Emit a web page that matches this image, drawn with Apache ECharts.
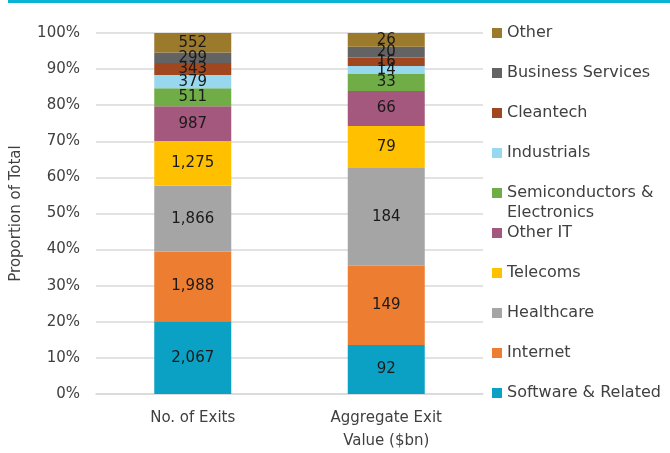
<!DOCTYPE html>
<html>
<head>
<meta charset="utf-8">
<script src="https://cdn.jsdelivr.net/npm/echarts@6/dist/echarts.min.js"></script>
<style>
  html, body { margin: 0; padding: 0; background: #fff; }
  #chart { width: 670px; height: 453px; }
</style>
</head>
<body>
<div id="chart"></div>
<script>
// bottom to top of each stack
const sectors = [
  "Software & Related", "Internet", "Healthcare", "Telecoms", "Other IT",
  "Semiconductors & Electronics", "Industrials", "Cleantech", "Business Services", "Other"
];
const columns = ["No. of Exits", "Aggregate Exit\nValue ($bn)"];
const exitCounts = [2067, 1988, 1866, 1275, 987, 511, 379, 343, 299, 552];
const exitValues = [92, 149, 184, 79, 66, 33, 14, 16, 20, 26];
const yTicks = [0, 10, 20, 30, 40, 50, 60, 70, 80, 90, 100];

const colors = [
  "#0ba1c4", "#ed7d31", "#a5a5a5", "#ffc000", "#a5587d",
  "#70ad47", "#97d8ef", "#a0471f", "#636363", "#9c7a2b"
];

const FONT = "DejaVu Sans";
const TEXT = "#404040";

const chart = echarts.init(document.getElementById("chart"));

const raw = [exitCounts, exitValues];
const totals = raw.map((arr) => arr.reduce((a, b) => a + b, 0));

const series = sectors.map((name, i) => ({
  name: name,
  type: "bar",
  stack: "total",
  barWidth: 77,
  itemStyle: { color: colors[i] },
  data: raw.map((arr, c) => arr[i] / totals[c] * 100),
  label: {
    show: true,
    position: "inside",
    fontFamily: FONT,
    fontSize: 15,
    color: "#1a1a1a",
    formatter: (p) => raw[p.dataIndex][i].toLocaleString("en-US"),
  },
}));

const legendText = { fontFamily: FONT, fontSize: 16, color: TEXT, lineHeight: 20 };
const legendNames = sectors.slice().reverse();

// the long legend entry wraps; second line sits under the first like Excel does
const wrapName = "Semiconductors & Electronics";
const wrapLines = ["Semiconductors &", "Electronics"];

const option = {
  animation: false,
  grid: { left: 96, right: 187, top: 33, bottom: 57 },
  graphic: [
    { type: "rect", shape: { x: 8, y: 0, width: 662, height: 3 }, style: { fill: "#0ab2d3" } },
    {
      type: "text", left: 507, top: 205,
      style: { text: wrapLines[1], font: "16px '" + FONT + "'", fill: TEXT },
    },
  ],
  legend: {
    left: 492, top: 23, orient: "vertical", padding: 0,
    itemWidth: 10, itemHeight: 10, itemGap: 20, itemTextGap: 4,
    icon: "rect", textStyle: legendText,
    data: legendNames,
    formatter: (n) => (n === wrapName ? wrapLines[0] : n),
  },
  xAxis: {
    type: "category",
    data: columns,
    axisLine: { lineStyle: { color: "#d9d9d9", width: 1.5 } },
    axisTick: { show: false },
    axisLabel: { fontFamily: FONT, fontSize: 15, color: TEXT, margin: 13, lineHeight: 23 },
  },
  yAxis: {
    type: "value",
    min: yTicks[0],
    max: yTicks[yTicks.length - 1],
    interval: yTicks[1] - yTicks[0],
    name: "Proportion of Total",
    nameLocation: "middle",
    nameGap: 72,
    nameTextStyle: { fontFamily: FONT, fontSize: 15, color: TEXT },
    axisLine: { show: false },
    axisTick: { show: false },
    axisLabel: { fontFamily: FONT, fontSize: 15, color: TEXT, margin: 16, formatter: "{value}%" },
    splitLine: { lineStyle: { color: "#d9d9d9", width: 1.5 } },
  },
  series: series,
};

chart.setOption(option);
</script>
</body>
</html>
